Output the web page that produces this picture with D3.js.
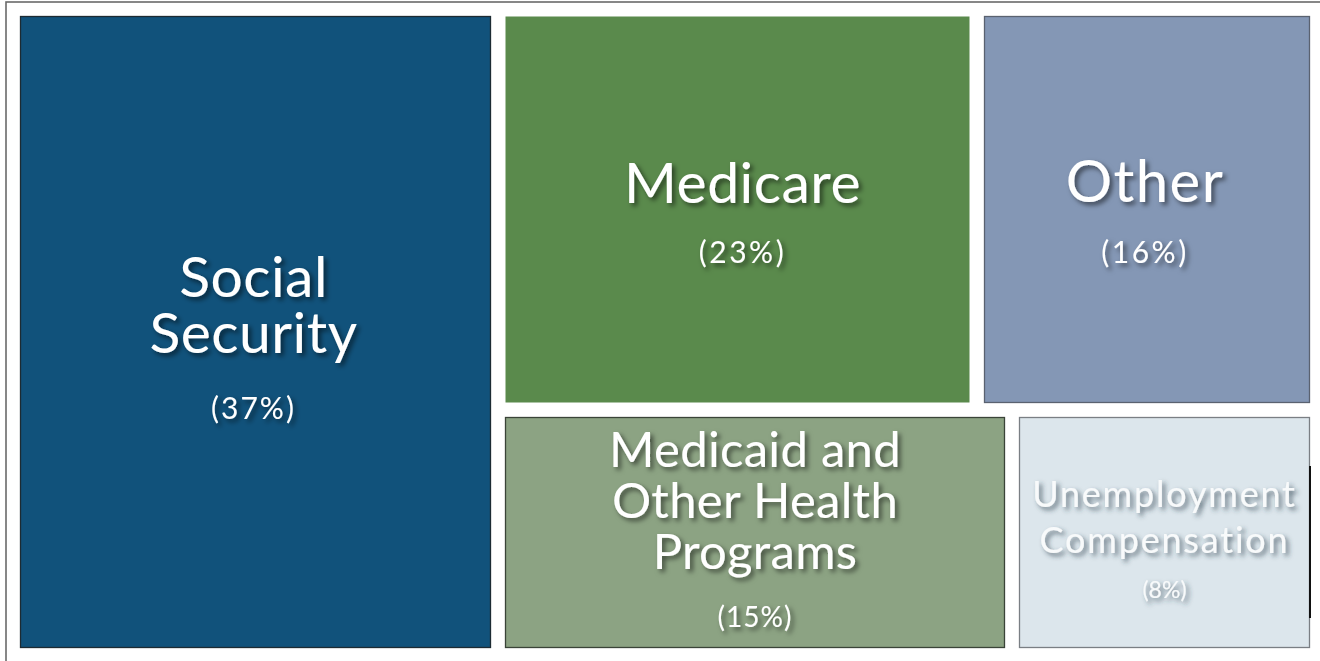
<!DOCTYPE html>
<html>
<head>
<meta charset="utf-8">
<script src="https://cdn.jsdelivr.net/npm/d3@7"></script>
<style>
  html, body { margin: 0; padding: 0; background: #fff; }
  svg { display: block; }
  text { font-family: "Gill Sans", "Gill Sans MT", Lato, "Open Sans", sans-serif; fill: #fff; }
</style>
</head>
<body>
<svg id="chart" width="1320" height="661"></svg>
<script>
// ---- data ----
const categories = ["Social Security", "Medicare", "Other", "Medicaid and Other Health Programs", "Unemployment Compensation"];
// shares as labelled
const values = [37, 23, 16, 15, 8];
// unrounded shares estimated from the areas of the boxes in the picture
const shares = [37.2, 22.8, 16.2, 15.0, 8.9];
const percentLabels = ["(37%)", "(23%)", "(16%)", "(15%)", "(8%)"];
const labelLines = [
  ["Social", "Security"],
  ["Medicare"],
  ["Other"],
  ["Medicaid and", "Other Health", "Programs"],
  ["Unemployment", "Compensation"]
];
// grouping of the layout: first item alone, then rows of the remaining ones
const groupRows = [[0], [[1, 2], [3, 4]]];

// ---- styles ----
const fills = ["#11527b", "#5a8a4c", "#8497b5", "#8ca383", "#dce6ec"];
const strokes = ["#1d2b33", "none", "#5a6270", "#3a4438", "#7a7f84"];
const nameSize = [57, 57, 58, 49, 36];
const nameSpacing = [0.5, 0.5, 1.5, 0.3, 1.8];
const nameLead = [56, 0, 0, 51, 46];
const nameFirst = [281, 187, 186, 50, 90];
const labelDx = [-2, 5, -2, 0, 0];
const pctSize = [30, 30, 30, 28, 23];
const pctSpacing = [2, 2.5, 2.5, 1, 0];
const pctOffset = [403, 247, 247, 210, 181];
const textFill = ["#fff", "#fff", "#fff", "#fff", "#f8fafb"];

const svg = d3.select("#chart");
const W = 1320, H = 661;

// drop shadow filters
const defs = svg.append("defs");
const f = defs.append("filter").attr("id", "shadow").attr("x", "-20%").attr("y", "-40%").attr("width", "140%").attr("height", "180%");
f.append("feDropShadow").attr("dx", 3).attr("dy", 3).attr("stdDeviation", 2.6)
  .attr("flood-color", "#000").attr("flood-opacity", 0.55);
const f2 = defs.append("filter").attr("id", "shadowLight").attr("x", "-20%").attr("y", "-40%").attr("width", "140%").attr("height", "180%");
f2.append("feDropShadow").attr("dx", 3).attr("dy", 3).attr("stdDeviation", 2.8)
  .attr("flood-color", "#2c3a48").attr("flood-opacity", 0.7);

// outer frame
svg.append("rect").attr("x", 6).attr("y", 2).attr("width", W + 20).attr("height", H + 20)
  .attr("fill", "none").attr("stroke", "#6a6a6a").attr("stroke-width", 1.6);

// hierarchy
const hierarchyData = {
  name: "root",
  children: [
    { idx: groupRows[0][0], value: shares[groupRows[0][0]] },
    { name: "right", children: groupRows[1].map(row => ({ name: "row", children: row.map(i => ({ idx: i, value: shares[i] })) })) }
  ]
};

const root = d3.hierarchy(hierarchyData).sum(d => d.value || 0);
const ox = 20, oy = 16, ow = 1290, oh = 632;
d3.treemap()
  .tile(d3.treemapSliceDice)
  .size([ow, oh])
  .paddingInner(14)
  .round(true)(root);

const leaves = root.leaves();
const g = svg.append("g").attr("transform", `translate(${ox},${oy})`);

const cell = g.selectAll("g.cell").data(leaves).join("g").attr("class", "cell");

cell.append("rect")
  .attr("x", d => d.x0 + 0.5)
  .attr("y", d => d.y0 + 0.5)
  .attr("width", d => d.x1 - d.x0 - 1)
  .attr("height", d => d.y1 - d.y0 - 1)
  .attr("fill", d => fills[d.data.idx])
  .attr("stroke", d => strokes[d.data.idx])
  .attr("stroke-width", 1.3);

cell.each(function (d) {
  const i = d.data.idx;
  const sel = d3.select(this);
  const cx = (d.x0 + d.x1) / 2 + labelDx[i];
  const filt = i === 4 ? "url(#shadowLight)" : "url(#shadow)";
  const name = sel.append("text")
    .attr("text-anchor", "middle")
    .attr("font-size", nameSize[i])
    .attr("letter-spacing", nameSpacing[i])
    .style("fill", textFill[i])
    .attr("filter", filt);
  labelLines[i].forEach((line, k) => {
    name.append("tspan")
      .attr("x", cx)
      .attr("y", d.y0 + nameFirst[i] + k * nameLead[i])
      .text(line);
  });
  sel.append("text")
    .attr("x", cx)
    .attr("y", d.y0 + pctOffset[i])
    .attr("text-anchor", "middle")
    .attr("font-size", pctSize[i])
    .attr("letter-spacing", pctSpacing[i])
    .style("fill", textFill[i])
    .attr("filter", filt)
    .text(percentLabels[i]);
});

// dark mark at right edge of the last cell
const last = leaves.find(d => d.data.idx === 4);
g.append("line")
  .attr("x1", last.x1).attr("x2", last.x1)
  .attr("y1", last.y0 + 49).attr("y2", last.y0 + 201)
  .attr("stroke", "#111").attr("stroke-width", 2);
</script>
</body>
</html>
